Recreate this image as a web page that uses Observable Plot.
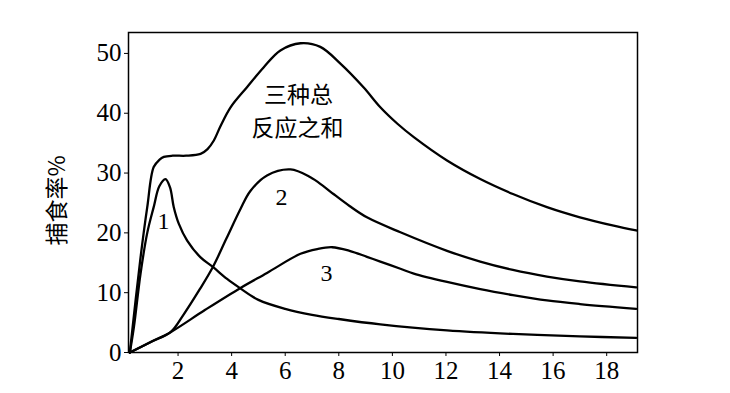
<!DOCTYPE html>
<html><head><meta charset="utf-8">
<script src="https://cdn.jsdelivr.net/npm/d3@7"></script>
<script src="https://cdn.jsdelivr.net/npm/@observablehq/plot@0.6"></script>
<style>body{margin:0;background:#fff}</style>
</head><body><div id="chart"></div>
<script>
// Curve 1
const x1 = [0.2,0.35,0.6,0.85,1.09,1.3,1.53,1.7,1.84,2.03,2.34,2.84,3.3,3.83,4.3,5,6,7,8,9.55,12.04,14.5,17,19.1];
const y1 = [0,4.2,13.2,20,24.3,27.8,29.0,27.6,24.3,21.5,18.7,15.9,14.3,12.3,10.8,8.8,7.3,6.3,5.6,4.7,3.7,3.1,2.7,2.45];
// Curve 2
const x2 = [0.2,1.0,1.72,2.2,2.8,3.3,3.8,4.33,4.7,5.32,6.2,6.94,7.4,7.8,8.4,9.05,10.3,12.04,13.28,14.5,15.77,17,19.1];
const y2 = [0,1.8,3.4,6.3,10.5,14.3,19,24,27,29.6,30.6,29.3,27.9,26.5,24.5,22.6,20.1,17.0,15.2,13.8,12.7,11.9,10.9];
// Curve 3
const x3 = [0.2,1.0,1.72,3.0,4.33,5.32,6.57,7.2,7.75,8.4,9.05,9.55,10.3,10.8,12.04,13.28,14.5,15.77,17,19.1];
const y3 = [0,1.8,3.4,7.1,10.8,13.3,16.5,17.3,17.6,17.0,16.0,15.2,14.0,13.2,11.8,10.6,9.6,8.7,8.1,7.3];
// Sum of three
const xT = [0.2,0.6,0.85,1.09,1.3,1.47,1.8,2.3,2.84,3.1,3.33,3.6,3.96,4.58,5.2,5.82,6.57,7.31,8.06,8.93,9.55,10.2,10.8,12.04,13.28,14.5,15.77,17,18.26,19.1];
const yT = [0,15.9,24.3,31,32.2,32.7,32.9,32.9,33.2,34,35.4,38,41,44.4,47.7,50.5,51.7,51.1,48.3,44.3,41.0,38.2,36,32.1,29,26.5,24.3,22.6,21.2,20.4];

const xTicks = [2,4,6,8,10,12,14,16,18];
const yTicks = [0,10,20,30,40,50];
const yLabel = "捕食率%";

const numLabels = ["1","2","3"];
const numLabelX = [1.46,5.86,7.54];
const numLabelY = [22,25.9,13.2];

const sumLabels = ["三种总","反应之和"];
const sumLabelX = [6.5,6.46];
const sumLabelY = [43.0,37.4];

const rows = [];
function add(series, xs, ys) { xs.forEach((x, i) => rows.push({series, x, y: ys[i]})); }
add("1", x1, y1); add("2", x2, y2); add("3", x3, y3); add("sum", xT, yT);

const nums = numLabels.map((t, i) => ({t, x: numLabelX[i], y: numLabelY[i]}));
const sums = sumLabels.map((t, i) => ({t, x: sumLabelX[i], y: sumLabelY[i]}));

const chart = Plot.plot({
  width: 730, height: 393,
  marginLeft: 128, marginRight: 93, marginTop: 32, marginBottom: 41,
  style: {fontFamily: "'Liberation Serif','Noto Sans CJK SC',serif", fontSize: "25px", color: "#000", background: "#fff"},
  x: {domain: [0.15, 19.15], ticks: xTicks, tickSize: 4, tickPadding: 5, label: null},
  y: {domain: [0, 53.5], ticks: yTicks, tickSize: 4, tickPadding: 3, label: null},
  marks: [
    Plot.frame({stroke: "#000", strokeWidth: 1.5}),
    Plot.line(rows, {x: "x", y: "y", z: "series", stroke: "#000", strokeWidth: 2.3, curve: "catmull-rom"}),
    Plot.text(nums, {x: "x", y: "y", text: "t", fontSize: 24, fill: "#000"}),
    Plot.text(sums, {x: "x", y: "y", text: "t", fontSize: 23, fontFamily: "'Noto Sans CJK SC'", fill: "#000"}),
    Plot.text([yLabel], {frameAnchor: "left", text: d => d, rotate: -90, textAnchor: "middle", dx: -71, dy: 8, fontSize: 23, fontFamily: "'Noto Sans CJK SC'", fill: "#000"})
  ]
});
document.getElementById("chart").appendChild(chart);
</script>
</body></html>
